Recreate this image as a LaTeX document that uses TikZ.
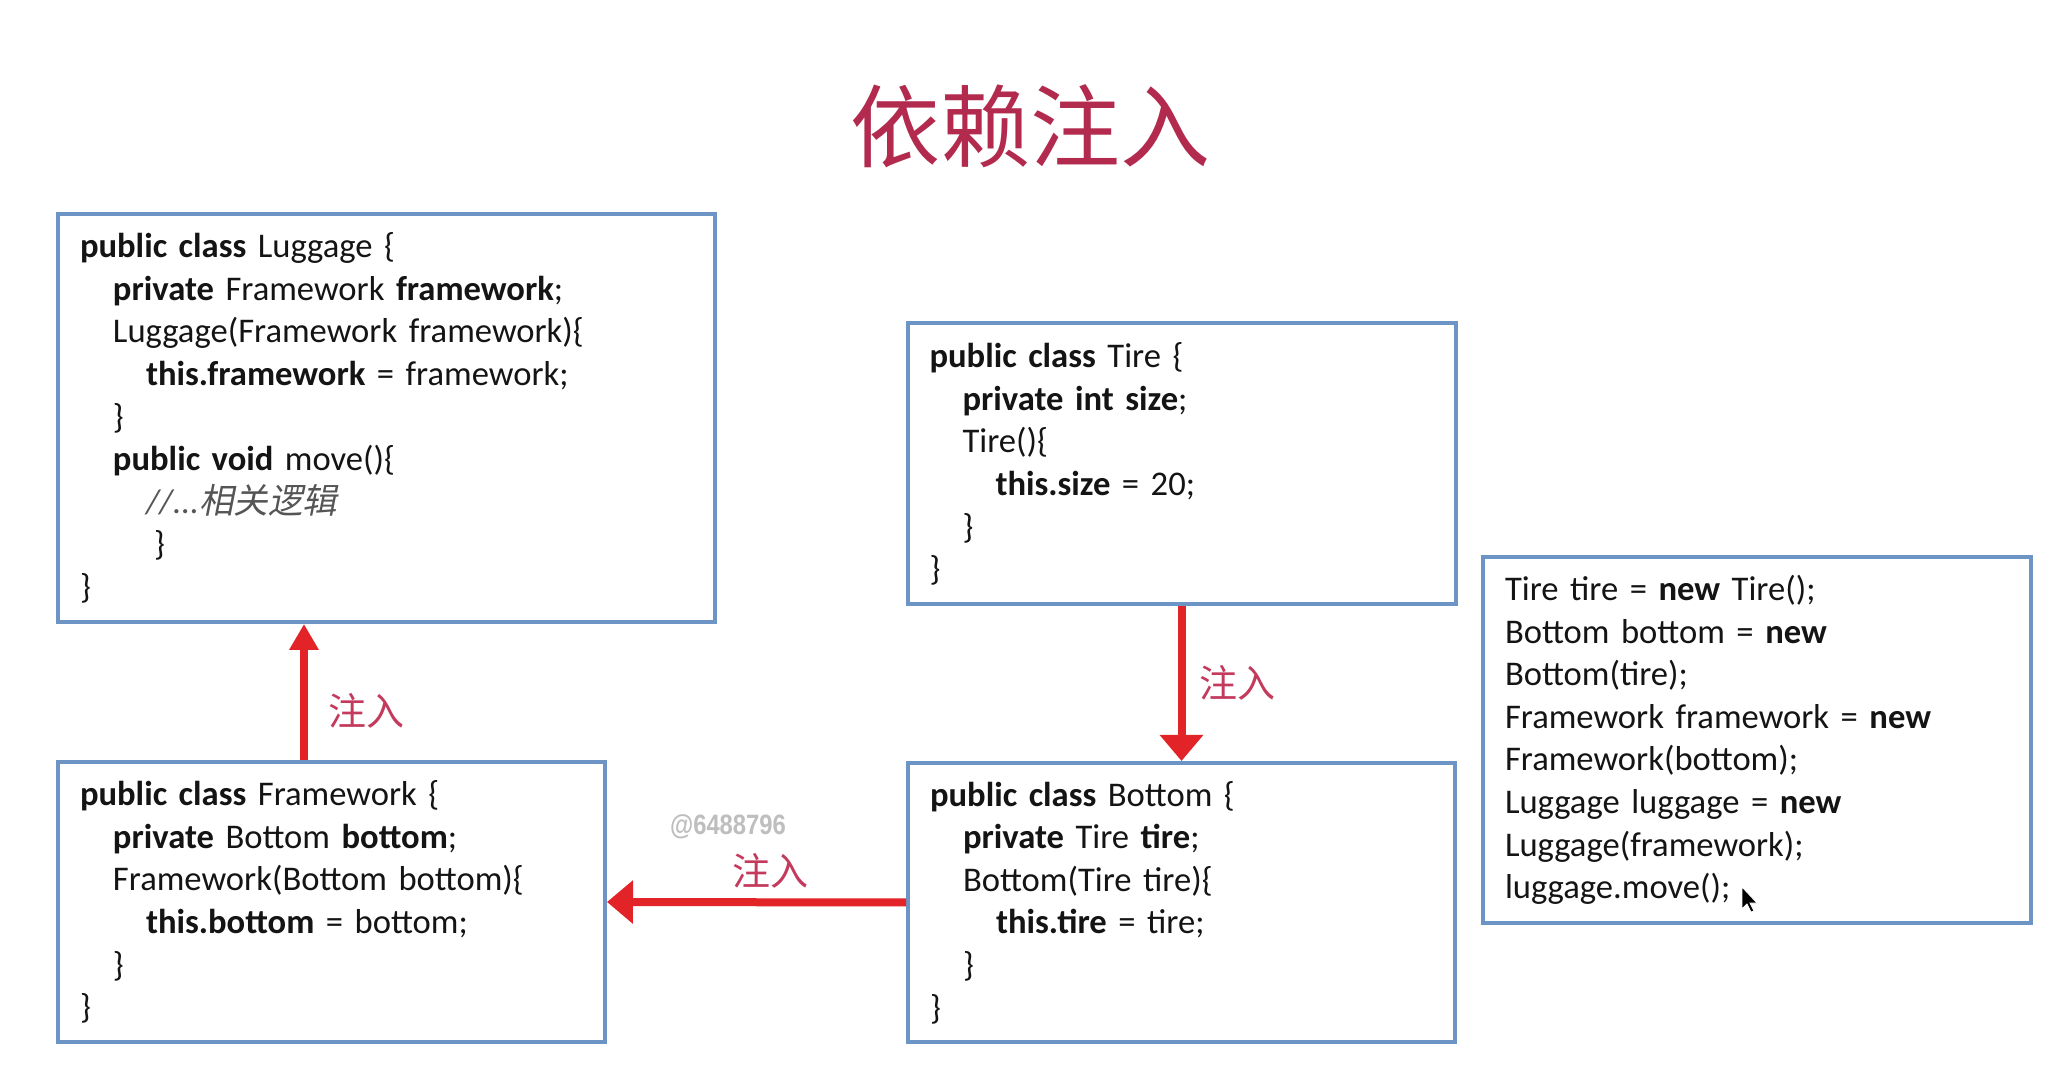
\documentclass[tikz,border=0pt]{standalone}
\usepackage{fontspec}
\setmainfont{Carlito}
\newfontfamily\cjk{Noto Sans CJK SC}
\newfontfamily\cjkslant{Noto Sans CJK SC}[FakeSlant=0.2]
\newfontfamily\wmfont{Liberation Sans}
\usetikzlibrary{arrows.meta}

\definecolor{boxblue}{RGB}{108,148,196}
\definecolor{injred}{RGB}{226,36,40}
\definecolor{titlered}{RGB}{178,42,78}
\definecolor{labelred}{RGB}{196,58,92}
\definecolor{wmgray}{RGB}{190,190,190}
\definecolor{codeblack}{RGB}{20,20,20}
\definecolor{commentgray}{RGB}{85,85,85}

% indentation levels and keywords in the code listings
\newcommand\ia{\hspace*{16.5pt}}
\newcommand\ib{\hspace*{33pt}}
\newcommand\kw[1]{\textbf{#1}}

\begin{document}
\begin{tikzpicture}[x=0.5pt,y=-0.5pt,
  codebox/.style={draw=boxblue, line width=2pt, inner xsep=0pt, inner ysep=0pt,
    align=left, font=\fontsize{17.3}{21.3}\selectfont, text=codeblack, fill=white},
  inj/.style={draw=injred, line width=4pt, -{Triangle[length=13pt,width=21pt]}},
  injlabel/.style={font=\cjk\fontsize{19}{19}\selectfont, text=labelred}]

\useasboundingbox[fill=white] (0,0) rectangle (2062,1068);

% title
\node[font=\cjk\fontsize{45}{45}\selectfont, text=titlered] (title) at (1030,126) {依赖注入};

% class boxes
\node[codebox, minimum width=328.5pt, minimum height=204pt, text width=306.5pt] (lug) at (386.5,418) {%
\kw{public class} Luggage \{\\
\ia\kw{private} Framework \kw{framework};\\
\ia Luggage(Framework framework)\{\\
\ib\kw{this.framework} = framework;\\
\ia\}\\
\ia\kw{public void} move()\{\\
\ib{\color{commentgray}\itshape //...{\cjkslant 相关逻辑}}\\
\ib\hspace*{4pt}\}\\
\}};

\node[codebox, minimum width=274pt, minimum height=140.5pt, text width=252pt] (tire) at (1181.5,464) {%
\kw{public class} Tire \{\\
\ia\kw{private int size};\\
\ia Tire()\{\\
\ib\kw{this.size} = 20;\\
\ia\}\\
\}};

\node[codebox, minimum width=274pt, minimum height=183pt, text width=252pt] (main) at (1757,740) {%
Tire tire = \kw{new} Tire();\\
Bottom bottom = \kw{new}\\
Bottom(tire);\\
Framework framework = \kw{new}\\
Framework(bottom);\\
Luggage luggage = \kw{new}\\
Luggage(framework);\\
luggage.move();};

\node[codebox, minimum width=273.5pt, minimum height=140pt, text width=251.5pt] (fw) at (331.5,902) {%
\kw{public class} Framework \{\\
\ia\kw{private} Bottom \kw{bottom};\\
\ia Framework(Bottom bottom)\{\\
\ib\kw{this.bottom} = bottom;\\
\ia\}\\
\}};

\node[codebox, minimum width=273.5pt, minimum height=139.5pt, text width=251.5pt] (bot) at (1181.5,902.5) {%
\kw{public class} Bottom \{\\
\ia\kw{private} Tire \kw{tire};\\
\ia Bottom(Tire tire)\{\\
\ib\kw{this.tire} = tire;\\
\ia\}\\
\}};

% mouse pointer
\fill[black, draw=white, line width=0.4pt] (1742,887) -- (1742,909) -- (1747,904) -- (1751,912) -- (1754,911) -- (1750,903) -- (1757,903) -- cycle;

% watermark
\node[font=\wmfont\bfseries\fontsize{14}{14}\selectfont, text=wmgray] (wm) at (728,827) {\scalebox{0.85}[1]{@6488796}};

% injection arrows
\coordinate (upx) at (304,0);
\draw[inj, -{Triangle[length=13pt,width=14pt]}] (fw.north -| upx) -- (lug.south -| upx);
\draw[inj] (tire.south) -- (bot.north);
\draw[inj] (bot.west) -- (fw.east);

\node[injlabel] (l1) at (366,711) {注入};
\node[injlabel] (l2) at (1237,683) {注入};
\node[injlabel] (l3) at (770,871) {注入};

\end{tikzpicture}
\end{document}
